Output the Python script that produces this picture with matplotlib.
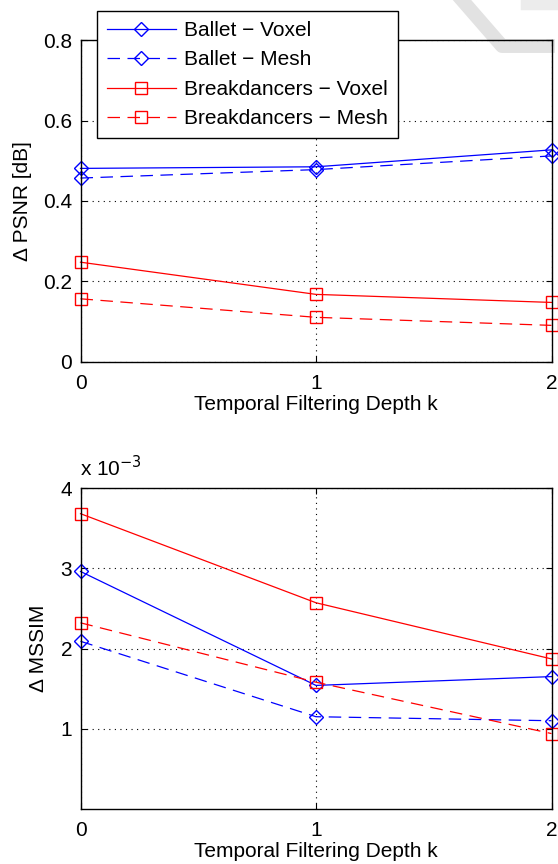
import matplotlib.pyplot as plt
from matplotlib.lines import Line2D
from matplotlib.ticker import FuncFormatter

plt.rcParams['font.family'] = ['Liberation Sans', 'DejaVu Sans']
plt.rcParams['font.size'] = 15

depth = [0, 1, 2]
labels = ['Ballet \u2212 Voxel', 'Ballet \u2212 Mesh',
          'Breakdancers \u2212 Voxel', 'Breakdancers \u2212 Mesh']

# delta PSNR [dB]
psnr_ballet_voxel = [0.481, 0.485, 0.527]
psnr_ballet_mesh = [0.457, 0.478, 0.512]
psnr_break_voxel = [0.248, 0.168, 0.148]
psnr_break_mesh = [0.157, 0.111, 0.091]

# delta MSSIM
mssim_ballet_voxel = [2.96e-3, 1.54e-3, 1.65e-3]
mssim_ballet_mesh = [2.09e-3, 1.15e-3, 1.10e-3]
mssim_break_voxel = [3.68e-3, 2.57e-3, 1.87e-3]
mssim_break_mesh = [2.32e-3, 1.58e-3, 0.94e-3]

blue = '#0000ff'
red = '#ff0000'
dash = (0, (10, 6))
styles = [
    dict(color=blue, ls='-', marker='D', ms=7),
    dict(color=blue, ls=dash, marker='D', ms=7),
    dict(color=red, ls='-', marker='s', ms=8),
    dict(color=red, ls=dash, marker='s', ms=8),
]

W, H = 558, 864
fig = plt.figure(figsize=(W / 100, H / 100), dpi=100)

# faint watermark stroke in the top right corner
fig.add_artist(Line2D([462 / W, 502 / W, 548 / W], [1, 1 - 46 / H, 1 - 46 / H],
                      transform=fig.transFigure, color='#e2e2e2', lw=10,
                      solid_joinstyle='round', zorder=0))
fig.add_artist(Line2D([530 / W, 558 / W], [1, 1], transform=fig.transFigure,
                      color='#ececec', lw=14, zorder=0))

ax1 = fig.add_axes([80.5 / W, 1 - 362 / H, 471 / W, 322 / H])
ax2 = fig.add_axes([80.5 / W, 1 - 809 / H, 471 / W, 321 / H])


def style_axes(ax, ylab_x, xlab_y):
    ax.set_facecolor('none')
    ax.set_xlim(0, 2)
    ax.set_xticks(depth)
    ax.grid(True, color='black', ls=(0, (1, 4)), lw=0.8)
    ax.tick_params(direction='in', top=True, right=True, length=4)
    ax.tick_params(axis='x', pad=9)
    ax.tick_params(axis='y', pad=6)
    for s in ax.spines.values():
        s.set_linewidth(1.0)
    ax.set_xlabel('Temporal Filtering Depth k')
    ax.xaxis.set_label_coords(0.5, xlab_y)
    ax.yaxis.set_label_coords(ylab_x, 0.5)


series1 = [psnr_ballet_voxel, psnr_ballet_mesh, psnr_break_voxel, psnr_break_mesh]
for ys, st, lab in zip(series1, styles, labels):
    ax1.plot(depth, ys, lw=0.9, mfc='none', mew=1.0, label=lab, clip_on=False, **st)
ax1.set_ylim(0, 0.8)
ax1.set_yticks([0, 0.2, 0.4, 0.6, 0.8])
ax1.set_yticklabels(['0', '0.2', '0.4', '0.6', '0.8'])
ax1.set_ylabel('\u0394 PSNR [dB]')
style_axes(ax1, -0.103, -0.102)
leg = ax1.legend(loc='upper left', bbox_to_anchor=(97 / W, 1 - 11 / H),
                 bbox_transform=fig.transFigure, fancybox=False, framealpha=1,
                 edgecolor='black', borderpad=0.48, labelspacing=0.5,
                 handlelength=3.3, handletextpad=0.4, borderaxespad=0)
leg.get_frame().set_linewidth(1.0)
leg.set_zorder(10)

series2 = [mssim_ballet_voxel, mssim_ballet_mesh, mssim_break_voxel, mssim_break_mesh]
for ys, st in zip(series2, styles):
    ax2.plot(depth, ys, lw=0.9, mfc='none', mew=1.0, clip_on=False, **st)
ax2.set_ylim(0, 4e-3)
ax2.set_yticks([1e-3, 2e-3, 3e-3, 4e-3])
ax2.yaxis.set_major_formatter(FuncFormatter(lambda v, p: '%g' % round(v * 1e3, 6)))
ax2.set_ylabel('\u0394 MSSIM')
style_axes(ax2, -0.068, -0.104)
ax2.text(0, 1.025, 'x 10$^{-3}$', transform=ax2.transAxes, ha='left', va='bottom',
         fontsize=15)

fig.savefig('out.png', dpi=100)
